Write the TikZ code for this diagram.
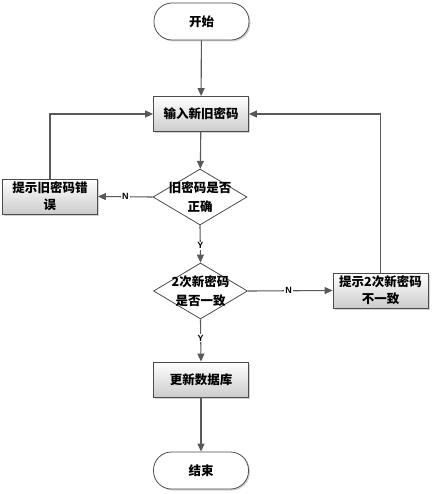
\documentclass[tikz,border=0pt]{standalone}
\usepackage{fontspec}
\newfontfamily\cjk{Noto Sans CJK SC}
\newfontfamily\lat{Liberation Sans}
\usetikzlibrary{shapes.geometric,arrows.meta,shadows}
\begin{document}
\begin{tikzpicture}[x=1pt,y=-1pt,
  line/.style={draw=black!65,line width=1.1pt},
  arr/.style={line,-{Triangle[length=8pt,width=7pt]}},
  procbox/.style={draw=black!70,line width=0.8pt,top color=white,bottom color=black!20,
    drop shadow={shadow xshift=1.5pt,shadow yshift=-1.5pt,opacity=0.35},
    minimum width=95pt,minimum height=35pt,inner sep=1pt,align=center,
    font=\cjk\bfseries\fontsize{12.5}{17}\selectfont},
  term/.style={draw=black!70,line width=0.8pt,fill=white,rounded corners=18pt,
    drop shadow={shadow xshift=1.5pt,shadow yshift=-1.5pt,opacity=0.35},
    minimum width=95pt,minimum height=37pt,inner sep=1pt,
    font=\cjk\bfseries\fontsize{12.5}{17}\selectfont},
  dec/.style={shape=diamond,draw=black!70,line width=0.8pt,fill=white,
    minimum width=94pt,minimum height=56pt,inner sep=0pt},
  dectext/.style={align=center,inner sep=0pt,font=\cjk\bfseries\fontsize{12.5}{19}\selectfont},
  lab/.style={fill=white,inner sep=1pt,font=\lat\bfseries\fontsize{9}{10}\selectfont}]
\useasboundingbox (0,0) rectangle (432,494);
\node[term] (start) at (201.5,21.5) {开始};
\node[procbox] (input) at (201,114) {输入新旧密码};
\node[dec] (d1) at (200,197) {};
\node[dectext] (t1) at (200,197) {旧密码是否\\正确};
\node[procbox] (err) at (50,196.5) {提示旧密码错\\误};
\node[dec] (d2) at (200.5,291) {};
\node[dectext] (t2) at (200.5,291) {2次新密码\\是否一致};
\node[procbox] (mis) at (380.5,290.5) {提示2次新密码\\不一致};
\node[procbox] (upd) at (201,379.5) {更新数据库};
\node[term] (stop) at (201,470.5) {结束};

\draw[arr] (start) -- (input);
\draw[arr] (input) -- (d1);
\draw[arr] (d1.west) -- node[lab,pos=0.5] {N} (err.east);
\draw[arr] (err.north) |- (input.west);
\draw[arr] (d1.south) -- node[lab,pos=0.55] {Y} (d2.north);
\draw[arr] (d2.east) -- node[lab,pos=0.48] {N} (mis.west);
\draw[arr] (mis.north) |- (input.east);
\draw[arr] (d2.south) -- node[lab,pos=0.45] {Y} (upd.north);
\draw[arr] (upd) -- (stop);
\end{tikzpicture}
\end{document}
